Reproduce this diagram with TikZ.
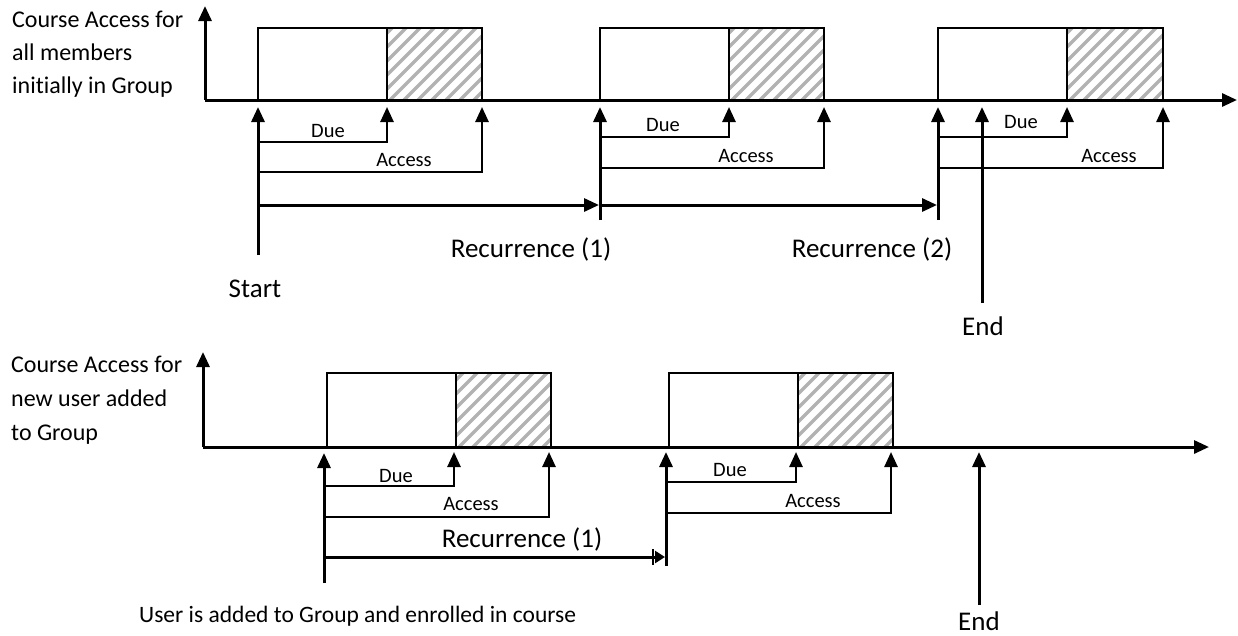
\documentclass[tikz,border=0pt]{standalone}
\usepackage{fontspec}
\setmainfont{Carlito}[Ligatures=NoCommon]
\usetikzlibrary{arrows.meta}
\definecolor{hatchgray}{RGB}{178,178,178}
\tikzset{
  axisline/.style={line width=3pt},
  bline/.style={line width=2.6pt},
  tipup/.style={-{Triangle[length=15pt,width=13pt]}},
  smalltip/.style={-{Triangle[length=10pt,width=12pt]}},
  boxline/.style={line width=2.6pt},
  hatchline/.style={line width=3.3pt, hatchgray},
  biglbl/.style={font=\fontsize{27}{31}\selectfont, inner sep=0pt, anchor=base},
  sidelbl/.style={font=\fontsize{24}{28}\selectfont, inner sep=0pt, anchor=base west},
  smlbl/.style={font=\fontsize{20.5}{24}\selectfont, inner sep=0pt, anchor=base},
}
\newcommand\hatchrect[4]{%
  \begin{scope}
    \clip (#1,#2) rectangle (#3,#4);
    \foreach \s in {-84,-70,...,100}{
      \draw[hatchline] ({#1+\s},{#4+3}) -- ++(84,-84);
    }
  \end{scope}
  \draw[boxline] (#1,#2) rectangle (#3,#4);}
\begin{document}
\begin{tikzpicture}[x=1pt,y=-1pt]
\useasboundingbox (0,0) rectangle (1238,635);

% ================= TOP PANEL =================
\node[sidelbl] (tl1) at (12,27) {Course Access for};
\node[sidelbl] (tl2) at (12,60) {all members};
\node[sidelbl] (tl3) at (12,93) {initially in Group};

\coordinate (tO) at (205,100);
\coordinate (tYtop) at (205,6);
\coordinate (tXend) at (1237,100);
\draw[axisline, tipup] (tO) -- (tYtop);
\draw[axisline, tipup] (tO) -- (tXend);

% boxes
\draw[boxline] (258,28) rectangle (387,100);
\hatchrect{387}{28}{482}{100}
\draw[boxline] (600,28) rectangle (729,100);
\hatchrect{729}{28}{824}{100}
\draw[boxline] (938,28) rectangle (1067,100);
\hatchrect{1067}{28}{1163}{100}

% box 1 markers
\coordinate (s1) at (258,255);
\coordinate (s1t) at (258,107);
\coordinate (d1a) at (258,142);
\coordinate (d1t) at (387,107);
\coordinate (a1a) at (258,172);
\coordinate (a1t) at (482,107);
\coordinate (r1a) at (258,205);
\coordinate (r1b) at (599,205);
\draw[axisline, tipup] (s1) -- (s1t);
\draw[bline, tipup] (d1a) -| (d1t);
\draw[bline, tipup] (a1a) -| (a1t);
\draw[axisline, tipup] (r1a) -- (r1b);

% box 2 markers
\coordinate (s2) at (600,220);
\coordinate (s2t) at (600,107);
\coordinate (d2a) at (600,137);
\coordinate (d2t) at (729,107);
\coordinate (a2a) at (600,168);
\coordinate (a2t) at (824,107);
\coordinate (r2a) at (600,205);
\coordinate (r2b) at (937,205);
\draw[axisline, tipup] (s2) -- (s2t);
\draw[bline, tipup] (d2a) -| (d2t);
\draw[bline, tipup] (a2a) -| (a2t);
\draw[axisline, tipup] (r2a) -- (r2b);

% box 3 markers
\coordinate (s3) at (938,220);
\coordinate (s3t) at (938,107);
\coordinate (d3a) at (938,137);
\coordinate (d3t) at (1067,107);
\coordinate (a3a) at (938,168);
\coordinate (a3t) at (1163,107);
\draw[axisline, tipup] (s3) -- (s3t);
\draw[bline, tipup] (d3a) -| (d3t);
\draw[bline, tipup] (a3a) -| (a3t);

% end
\coordinate (e1) at (982,303);
\coordinate (e1t) at (982,107);
\draw[axisline, tipup] (e1) -- (e1t);

% labels
\node[smlbl] (due1) at (328,137) {Due};
\node[smlbl] (acc1) at (404,166) {Access};
\node[smlbl] (due2) at (663,131) {Due};
\node[smlbl] (acc2) at (746,162) {Access};
\node[smlbl] (due3) at (1021,128) {Due};
\node[smlbl] (acc3) at (1109,162) {Access};
\node[biglbl] (rec1) at (531,257) {Recurrence (1)};
\node[biglbl] (rec2) at (872,257) {Recurrence (2)};
\node[biglbl] (start) at (255,297) {Start};
\node[biglbl] (end1) at (983,335) {End};

% ================= BOTTOM PANEL =================
\node[sidelbl] (bl1) at (11,372) {Course Access for};
\node[sidelbl] (bl2) at (11,406) {new user added};
\node[sidelbl] (bl3) at (11,440) {to Group};

\coordinate (bO) at (203,447);
\coordinate (bYtop) at (203,352);
\coordinate (bXend) at (1209,447);
\draw[axisline, tipup] (bO) -- (bYtop);
\draw[axisline, tipup] (bO) -- (bXend);

\draw[boxline] (327,373) rectangle (456,447);
\hatchrect{456}{373}{551}{447}
\draw[boxline] (669,373) rectangle (798,447);
\hatchrect{798}{373}{893}{447}

% new-user box 1
\coordinate (u1) at (324,583);
\coordinate (u1t) at (324,453);
\coordinate (ud1a) at (324,486);
\coordinate (ud1t) at (454,452);
\coordinate (ua1a) at (324,517);
\coordinate (ua1t) at (549,452);
\coordinate (ur1a) at (324,557);
\coordinate (ur1b) at (665,557);
\coordinate (ubar1) at (653,549);
\coordinate (ubar2) at (653,565);
\draw[axisline, tipup] (u1) -- (u1t);
\draw[bline, tipup] (ud1a) -| (ud1t);
\draw[bline, tipup] (ua1a) -| (ua1t);
\draw[axisline, smalltip] (ur1a) -- (ur1b);
\draw[line width=2pt] (ubar1) -- (ubar2);

% new-user box 2
\coordinate (u2) at (666,566);
\coordinate (u2t) at (666,452);
\coordinate (ud2a) at (666,482);
\coordinate (ud2t) at (796,452);
\coordinate (ua2a) at (666,513);
\coordinate (ua2t) at (891,452);
\draw[axisline, tipup] (u2) -- (u2t);
\draw[bline, tipup] (ud2a) -| (ud2t);
\draw[bline, tipup] (ua2a) -| (ua2t);

% end
\coordinate (e2) at (979,605);
\coordinate (e2t) at (979,452);
\draw[axisline, tipup] (e2) -- (e2t);

% labels
\node[smlbl] (bdue1) at (396,482) {Due};
\node[smlbl] (bacc1) at (471,510) {Access};
\node[smlbl] (bdue2) at (730,476) {Due};
\node[smlbl] (bacc2) at (813,507) {Access};
\node[biglbl] (brec1) at (522,547) {Recurrence (1)};
\node[biglbl, font=\fontsize{23.5}{28}\selectfont, anchor=base west] (user) at (139,622) {User is added to Group and enrolled in course};
\node[biglbl] (end2) at (979,630) {End};
\end{tikzpicture}
\end{document}
